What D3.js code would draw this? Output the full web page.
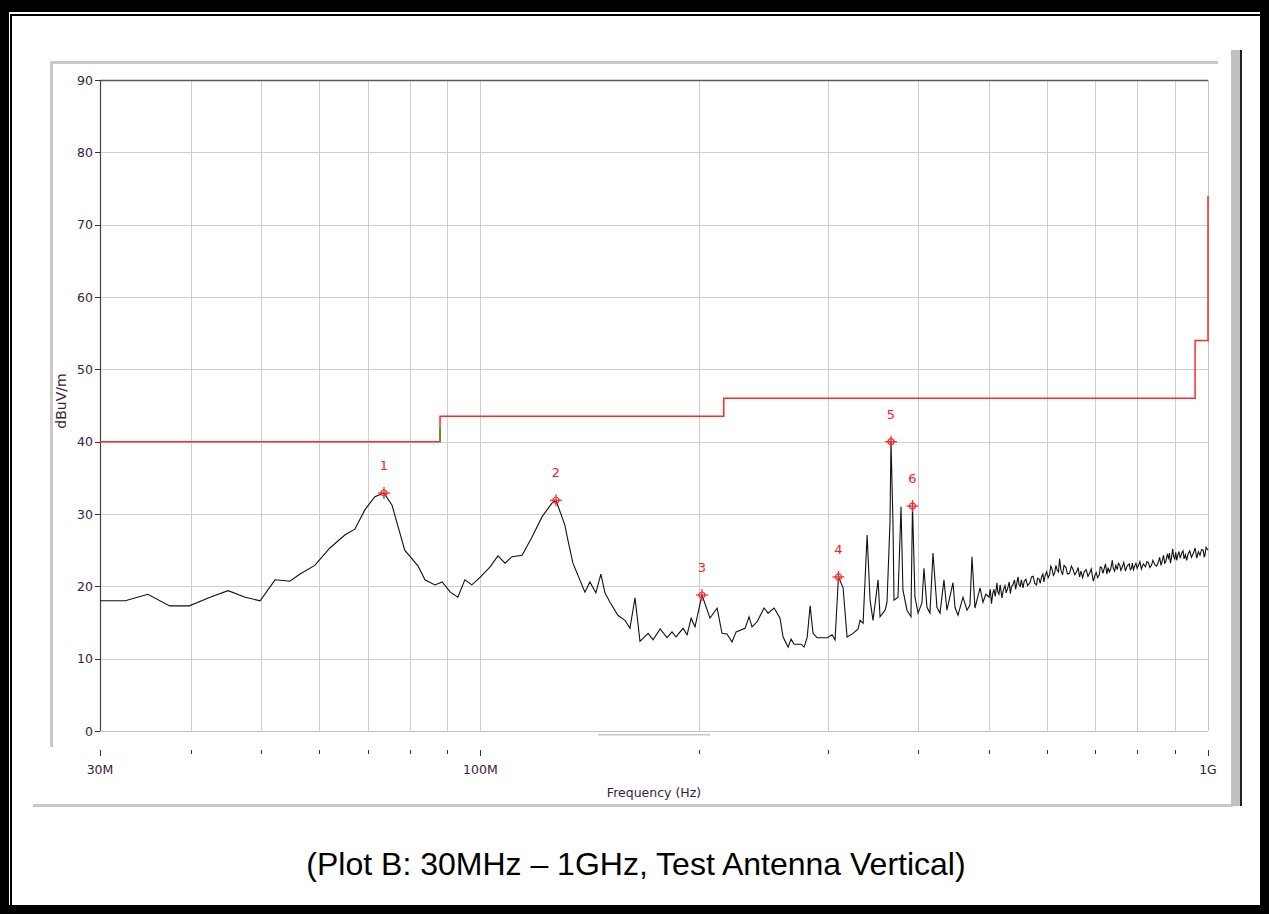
<html>

<head>
    <title>Plot B - Radiated Emissions, Vertical</title>
    <style>
        body {
            margin: 0;
            background: #000;
        }
    </style>
</head>

<body>
    <div id="my_dataviz"></div>
</body>

<script src="https://d3js.org/d3.v7.min.js"></script>
<script>

    // measured trace, 30 - 500 MHz (MHz, dBuV/m)
    var lowFreq = [30, 32.5, 34.9, 37.4, 39.8, 42.5, 45.0, 47.5, 49.8, 52.2, 54.7, 56.5, 59.2, 62.1, 65.1, 67.2,
        69.4, 71.6, 73.7, 75.6, 78.7, 82.1, 83.9, 86.6, 88.6, 90.9, 93.1, 95.2, 97.3, 99.8, 103.1, 105.7, 108.1,
        110.5, 114.1, 117.7, 121.5, 125.4, 127.0, 130.6, 131.9, 134.0, 139.2, 141.4, 144.1, 146.4, 148.3, 150.7,
        154.5, 158.0, 160.5, 163.1, 165.7, 170.0, 172.7, 176.6, 180.5, 183.4, 185.7, 189.9, 192.3, 194.8, 197.2,
        201.6, 206.8, 211.5, 214.8, 218.2, 221.7, 224.6, 231.1, 234.0, 236.2, 240.0, 245.4, 248.5, 253.3, 258.1,
        260.6, 264.8, 267.3, 269.8, 275.9, 278.5, 281.2, 283.9, 286.5, 290.2, 299.8, 304.3, 307.2, 310.5, 315.1,
        319.1, 325.2, 330.4, 332.5, 335.7, 340.0, 343.2, 346.4, 352.0, 354.2, 359.9, 362.1, 365.5, 366.7, 369.0,
        370.2, 374.9, 378.5, 380.8, 385.7, 390.6, 392.5, 395.6, 399.5, 404.4, 407.0, 410.9, 414.8, 418.8, 424.1,
        428.2, 433.6, 437.7, 446.2, 449.0, 453.3, 460.5, 466.4, 470.8, 473.8, 478.3, 486.0, 490.6, 495];
    var lowLevel = [18.0, 18.0, 18.9, 17.3, 17.3, 18.5, 19.4, 18.5, 18.0, 20.9, 20.7, 21.7, 22.9, 25.3, 27.1, 27.9,
        30.6, 32.4, 32.9, 31.2, 25.0, 22.8, 20.9, 20.2, 20.6, 19.2, 18.5, 20.9, 20.2, 21.2, 22.7, 24.2, 23.2,
        24.1, 24.3, 26.8, 29.6, 31.5, 31.9, 28.5, 26.4, 23.2, 19.2, 20.6, 19.1, 21.7, 19.1, 17.8,
        16.0, 15.3, 14.2, 18.4, 12.4, 13.5, 12.6, 14.1, 12.9, 13.7, 13.0, 14.2, 13.3, 15.6, 14.4,
        18.8, 15.6, 17.0, 13.5, 13.4, 12.3, 13.7, 14.2, 15.8, 14.4, 15.1, 17.0, 16.3, 17.0, 15.6,
        13.0, 11.6, 12.7, 12.0, 12.0, 11.6, 12.9, 17.3, 13.5, 12.9, 12.9, 13.3, 12.6, 21.3, 19.8,
        13.0, 13.5, 14.1, 15.3, 14.9, 27.1, 18.1, 15.3, 20.9, 15.8, 16.7, 17.8, 28.8, 40.0, 28.8,
        18.1, 18.5, 31.0, 19.5, 16.7, 15.8, 31.1, 18.5, 16.3, 17.7, 22.5, 17.1, 16.3, 24.6, 17.1,
        16.3, 20.9, 16.7, 20.5, 17.1, 16.0, 18.5, 16.7, 17.4, 24.1, 17.0, 19.8, 17.8, 18.9];

    // measured trace, 500 MHz - 1 GHz
    var highFreq = [500.1, 502, 504, 506, 508, 510, 512.8, 514, 516, 518, 521, 523, 526, 528, 531, 533, 535, 537,
        539.4, 542, 544, 546, 548.1, 550, 552, 554, 556.8, 559, 562, 565, 569.3, 572, 575, 578, 581.3, 583, 586,
        588, 590.6, 593, 595, 597,
        600, 603, 605.7, 608, 610, 613, 615.4, 618, 620, 623, 625.2, 628, 631.1, 634, 638, 641, 645.3, 649, 652,
        656, 659.8, 663, 666, 669, 672.4, 676, 680, 684, 687.5, 691, 695.6, 699, 702, 705, 708.9, 711, 714, 717,
        720.2, 723, 726, 729, 731.7, 735, 738.7, 741, 744, 747, 750.5, 753, 756, 759, 762.5, 766, 770, 774, 779.5,
        782, 785, 787, 789.9, 793, 796, 799, 802.5, 806, 810, 815, 820.5, 824, 828, 832, 836.2, 840, 845, 850,
        854.9, 858, 862, 865, 868.6, 872, 875, 879, 882.5, 885, 888, 891, 894.3, 897, 900, 903, 905.7, 909, 912,
        916, 920.2, 924, 927, 931, 934.8, 939, 944, 949, 955.8, 960, 965, 970, 975, 980, 985, 988, 990, 994, 997,
        1000];
    var highLevel = [18.5, 19.6, 17.6, 19.0, 19.6, 18.6, 20.5, 19.3, 18.9, 20.2, 18.4, 19.4, 20.1, 19.1, 19.9, 20.6,
        19.0, 20.0, 20.2, 20.9, 19.6, 20.4, 21.3, 20.2, 20.0, 20.9, 19.8, 20.7, 21.0, 20.1, 20.5, 21.3, 21.4, 20.4,
        20.2, 21.1, 21.0, 20.4, 21.3, 21.7, 20.6, 21.4,
        22.0, 21.2, 21.6, 22.8, 22.5, 21.5, 21.8, 22.9, 22.3, 22.0, 23.8, 22.2, 21.6, 22.9, 22.6, 21.7, 21.8, 22.8,
        22.4, 21.6, 22.0, 22.6, 21.3, 22.1, 21.2, 22.0, 22.3, 21.4, 21.8, 22.4, 20.7, 21.5, 21.9, 21.2, 21.6, 22.7,
        22.6, 21.8, 22.5, 23.1, 21.7, 22.6, 22.0, 22.4, 23.6, 22.5, 22.1, 22.9, 22.3, 23.2, 23.0, 22.2, 22.7, 23.3,
        22.1, 22.8, 23.1, 22.3, 22.5, 23.2, 22.3, 22.8, 23.2, 22.5, 22.9, 23.4, 22.4, 23.1, 22.7, 23.4, 23.3, 22.6,
        22.9, 23.6, 23.0, 22.8, 23.4, 24.0, 22.9, 23.5, 24.3, 23.2, 23.4, 24.4, 23.9, 24.6, 23.2, 24.0, 25.2, 24.1,
        23.8, 24.7, 23.6, 24.3, 24.8, 23.9, 24.6, 24.9, 23.8, 24.4, 23.6, 24.5, 24.9, 24.0, 24.7, 25.3, 23.9, 24.8,
        24.3, 25.1, 25.0, 24.1, 24.2, 25.4, 25.2, 25.0];

    // FCC class B limit (MHz, dBuV/m)
    var limitFreq = [30, 88, 88, 216, 216, 960, 960, 1000, 1000];
    var limitLevel = [40, 40, 43.5, 43.5, 46, 46, 54, 54, 74];

    // peak markers
    var markerFreq = [73.7, 127.0, 201.6, 310.5, 366.7, 392.5];
    var markerLevel = [32.9, 31.9, 18.8, 21.3, 40.0, 31.1];
    var markerName = ["1", "2", "3", "4", "5", "6"];

    var gridFreq = [40, 50, 60, 70, 80, 90, 100, 200, 300, 400, 500, 600, 700, 800, 900];
    var tickLevel = [0, 10, 20, 30, 40, 50, 60, 70, 80, 90];
    var freqLabels = [{ f: 30, t: "30M" }, { f: 100, t: "100M" }, { f: 1000, t: "1G" }];

    var W = 1269, H = 914;
    var font = "'DejaVu Sans', sans-serif";
    var txt = "#3a2040";

    var svg = d3.select("#my_dataviz")
        .append("svg")
        .attr("width", W)
        .attr("height", H)
        .style("display", "block");

    // page frame
    svg.append("rect").attr("width", W).attr("height", H).attr("fill", "#000");
    svg.append("rect").attr("x", 9).attr("y", 12).attr("width", 1251).attr("height", 893).attr("fill", "#fff");
    svg.append("rect").attr("x", 11).attr("y", 15).attr("width", 1250).attr("height", 891)
        .attr("fill", "none").attr("stroke", "#000").attr("stroke-width", 2);

    // window-ish panel edges
    svg.append("rect").attr("x", 50).attr("y", 61).attr("width", 1168).attr("height", 3).attr("fill", "#c8c8c8");
    svg.append("rect").attr("x", 50).attr("y", 61).attr("width", 3).attr("height", 686).attr("fill", "#c8c8c8");
    svg.append("rect").attr("x", 33).attr("y", 804).attr("width", 1200).attr("height", 3).attr("fill", "#c8c8c8");
    svg.append("rect").attr("x", 1231).attr("y", 50).attr("width", 9).attr("height", 756).attr("fill", "#c0c0c0");
    svg.append("rect").attr("x", 1240).attr("y", 50).attr("width", 2).attr("height", 756).attr("fill", "#222");
    svg.append("rect").attr("x", 598).attr("y", 734).attr("width", 112).attr("height", 1.5).attr("fill", "#c8c8c8");

    var x = d3.scaleLog().domain([30, 1000]).range([100, 1208]);
    var y = d3.scaleLinear().domain([0, 90]).range([731, 80]);

    var plot = svg.append("g");

    // grid
    plot.selectAll(".vg").data(gridFreq).enter().append("line")
        .attr("x1", function (d) { return Math.round(x(d)) + 0.5; })
        .attr("x2", function (d) { return Math.round(x(d)) + 0.5; })
        .attr("y1", y(90)).attr("y2", y(0))
        .attr("stroke", "#cfcfcf").attr("stroke-width", 1);
    plot.selectAll(".hg").data(tickLevel.slice(1, 9)).enter().append("line")
        .attr("x1", x(30)).attr("x2", x(1000))
        .attr("y1", function (d) { return Math.round(y(d)) + 0.5; })
        .attr("y2", function (d) { return Math.round(y(d)) + 0.5; })
        .attr("stroke", "#cfcfcf").attr("stroke-width", 1);

    // plot borders
    plot.append("line").attr("x1", x(30)).attr("x2", x(1000)).attr("y1", y(0) + 0.5).attr("y2", y(0) + 0.5)
        .attr("stroke", "#c4c4c4");
    plot.append("line").attr("x1", x(1000) + 0.5).attr("x2", x(1000) + 0.5).attr("y1", y(90)).attr("y2", y(0))
        .attr("stroke", "#c4c4c4");
    plot.append("line").attr("x1", x(30)).attr("x2", x(1000)).attr("y1", y(90) + 0.5).attr("y2", y(90) + 0.5)
        .attr("stroke", "#5a5a5a").attr("stroke-width", 1.5);
    plot.append("line").attr("x1", x(30) + 0.5).attr("x2", x(30) + 0.5).attr("y1", y(90)).attr("y2", y(0))
        .attr("stroke", "#444").attr("stroke-width", 1.2);

    // y ticks + labels
    plot.selectAll(".yt").data(tickLevel).enter().append("line")
        .attr("x1", 95).attr("x2", 100)
        .attr("y1", function (d) { return Math.round(y(d)) + 0.5; })
        .attr("y2", function (d) { return Math.round(y(d)) + 0.5; })
        .attr("stroke", "#333");
    plot.selectAll(".yl").data(tickLevel).enter().append("text")
        .attr("x", 93)
        .attr("y", function (d) { return y(d); })
        .attr("dy", "0.36em")
        .attr("text-anchor", "end")
        .style("font-family", font).style("font-size", "12.5px").attr("fill", txt)
        .text(function (d) { return d; });

    // x ticks + labels
    var allTicks = [30].concat(gridFreq).concat([1000]);
    plot.selectAll(".xt").data(allTicks).enter().append("line")
        .attr("x1", function (d) { return Math.round(x(d)) + 0.5; })
        .attr("x2", function (d) { return Math.round(x(d)) + 0.5; })
        .attr("y1", 750)
        .attr("y2", function (d) { return (d == 30 || d == 100 || d == 1000) ? 756 : 754; })
        .attr("stroke", "#333");
    plot.selectAll(".xl").data(freqLabels).enter().append("text")
        .attr("x", function (d) { return x(d.f); })
        .attr("y", 774)
        .attr("text-anchor", "middle")
        .style("font-family", font).style("font-size", "12.5px").attr("fill", txt)
        .text(function (d) { return d.t; });

    plot.append("text")
        .attr("x", 654).attr("y", 797)
        .attr("text-anchor", "middle")
        .style("font-family", font).style("font-size", "12.5px").attr("fill", txt)
        .text("Frequency (Hz)");
    plot.append("text")
        .attr("transform", "translate(66,401) rotate(-90)")
        .attr("text-anchor", "middle")
        .style("font-family", font).style("font-size", "14px").attr("fill", txt)
        .text("dBuV/m");

    // limit line
    var limitData = limitFreq.map(function (f, i) { return [f, limitLevel[i]]; });
    var line = d3.line()
        .x(function (d) { return x(d[0]); })
        .y(function (d) { return y(d[1]); });
    plot.append("path")
        .datum(limitData)
        .attr("d", line)
        .attr("fill", "none")
        .attr("stroke", "#ff2a2a")
        .attr("stroke-width", 1.5);
    plot.append("path")
        .datum([[88, 40], [88, 42]])
        .attr("d", line)
        .attr("fill", "none")
        .attr("stroke", "#3a9a20")
        .attr("stroke-width", 1.5);

    // trace
    var traceData = lowFreq.concat(highFreq).map(function (f, i) {
        return [f, lowLevel.concat(highLevel)[i]];
    });
    plot.append("path")
        .datum(traceData)
        .attr("d", line)
        .attr("fill", "none")
        .attr("stroke", "#111")
        .attr("stroke-width", 1.1);

    // markers
    var mk = plot.selectAll(".mk").data(markerFreq).enter().append("g")
        .attr("transform", function (d, i) { return "translate(" + x(d) + "," + y(markerLevel[i]) + ")"; });
    mk.append("line").attr("x1", -6).attr("x2", 6).attr("stroke", "#ff2020").attr("stroke-width", 1.2);
    mk.append("line").attr("y1", -6).attr("y2", 6).attr("stroke", "#ff2020").attr("stroke-width", 1.2);
    mk.append("circle").attr("r", 3).attr("fill", "none").attr("stroke", "#ff2020").attr("stroke-width", 1.2);
    mk.append("text")
        .attr("y", -23)
        .attr("text-anchor", "middle")
        .style("font-family", font).style("font-size", "13px").attr("fill", "#ff2020")
        .text(function (d, i) { return markerName[i]; });

    // caption
    svg.append("text")
        .attr("x", 636).attr("y", 875)
        .attr("text-anchor", "middle")
        .style("font-family", "'Liberation Sans', Arial, sans-serif")
        .style("font-size", "32px")
        .attr("fill", "#000")
        .text("(Plot B: 30MHz \u2013 1GHz, Test Antenna Vertical)");

</script>

</html>
